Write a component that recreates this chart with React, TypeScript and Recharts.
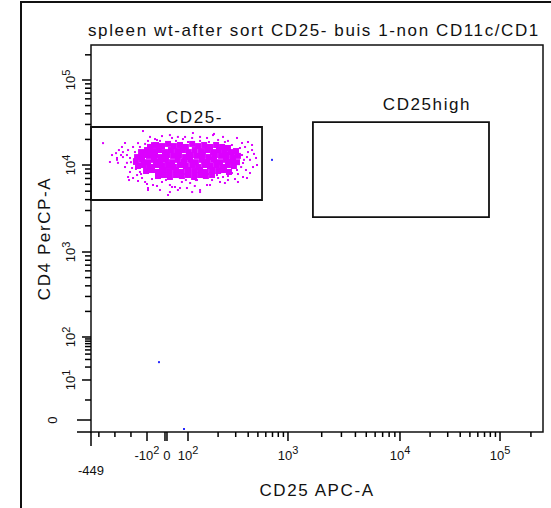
import { ScatterChart, Scatter, XAxis, YAxis, ReferenceArea } from "recharts";

const FONT = '"Liberation Sans", Arial, sans-serif';
const MAGENTA = "#dc00ff";
const BLUE = "#2a2aff";

// biexponential display calibration: [value, display position 0..1000]
const cd25Calib: [number, number][] = [
  [-449, 0], [-100, 123.9], [0, 168.1], [100, 214.6], [1000, 435.8],
  [10000, 683.6], [100000, 904.9], [262143, 1000],
];
const cd4Calib: [number, number][] = [
  [-10, 0], [0, 31], [10, 134.4], [100, 245.5], [1000, 465.1],
  [10000, 689.9], [100000, 909.6], [262143, 1000],
];

const cd25MajorTicks = [-449, -100, -10, 0, 100, 1000, 10000, 100000];
const cd25MajorLabels = ["-449", "-10^2", "", "0", "10^2", "10^3", "10^4", "10^5"];
const cd25MinorTicks = [
  -400, -300, -200,
  200, 300, 400, 500, 600, 700, 800, 900,
  2000, 3000, 4000, 5000, 6000, 7000, 8000, 9000,
  20000, 30000, 40000, 50000, 60000, 70000, 80000, 90000,
  200000,
];
const cd4MajorTicks = [-10, 0, 10, 100, 1000, 10000, 100000];
const cd4MajorLabels = ["", "0", "10^1", "10^2", "10^3", "10^4", "10^5"];
const cd4MinorTicks = [
  5,
  20, 30, 40, 50, 60, 70, 80, 90,
  200, 300, 400, 500, 600, 700, 800, 900,
  2000, 3000, 4000, 5000, 6000, 7000, 8000, 9000,
  20000, 30000, 40000, 50000, 60000, 70000, 80000, 90000,
  200000,
];

// gates: [cd25 min, cd25 max, cd4 min, cd4 max]
const gateNeg = [-449, 550, 3960, 28000];
const gateHigh = [1670, 77600, 2520, 32000];

// events [CD25 APC-A, CD4 PerCP-A] — dense centre of the CD25- population
const cd25NegCore: [number, number][] = [
  [-85, 16300], [-55, 17200], [-25, 16700], [5, 17700], [33, 16700], [62, 17200], [90, 16300],
  [110, 17700], [126, 16700], [145, 17200], [166, 16300], [191, 17200], [219, 16300], [251, 15850],
  [-137, 14200], [-100, 15000], [-70, 14600], [-40, 15000], [-10, 14200], [19, 15000], [48, 14600],
  [76, 15000], [102, 14200], [117, 15000], [135, 14600], [155, 15000], [178, 14200], [204, 15000],
  [234, 14600], [269, 14200], [302, 14600],
  [-162, 12400], [-125, 13100], [-90, 12800], [-60, 13100], [-30, 12400], [0, 13100], [29, 12800],
  [57, 13100], [86, 12400], [107, 13100], [123, 12800], [141, 13100], [162, 12400], [186, 13100],
  [214, 12800], [245, 13100], [282, 12400], [316, 12800],
  [-169, 11100], [-131, 11500], [-95, 10800], [-65, 11500], [-35, 11100], [-5, 11500], [24, 10800],
  [52, 11500], [81, 11100], [105, 11500], [120, 10800], [138, 11500], [158, 11100], [182, 11500],
  [209, 10800], [240, 11500], [275, 11100], [309, 10800],
  [-156, 9740], [-119, 10000], [-85, 9480], [-55, 10000], [-25, 9740], [5, 10000], [33, 9480],
  [62, 10000], [90, 9740], [110, 10000], [126, 9480], [145, 10000], [166, 9740], [191, 10000],
  [219, 9480], [251, 10000], [288, 9740],
  [-106, 8530], [-75, 8760], [-45, 8310], [-15, 8760], [14, 8530], [43, 8760], [71, 8310],
  [100, 8760], [115, 8530], [132, 8760], [151, 8310], [174, 8760], [200, 8530], [229, 8760], [257, 8310],
  [-45, 7470], [-15, 7670], [14, 7280], [43, 7670], [71, 7470], [100, 7670], [115, 7280],
  [132, 7670], [151, 7470], [174, 7670],
];

// scattered events around the centre
const cd25NegEvents: [number, number][] = [
  [-374, 18100], [-125, 25100], [-293, 13800], [-287, 11500], [-256, 16300], [-250, 14200],
  [-225, 10600], [-206, 8310], [-187, 7090], [-212, 6720], [-144, 8310], [-95, 5160], [-35, 5160],
  [14, 4890], [5, 4520], [52, 5160], [95, 5440], [110, 4890], [132, 4890], [155, 5890], [209, 6380],
  [251, 6720], [316, 6380], [355, 7280], [417, 8090], [447, 9480], [479, 12100], [437, 15000],
  [398, 18650], [347, 18150], [309, 20800], [251, 19200], [224, 21400], [178, 22500], [155, 20800],
  [132, 21400], [110, 20800], [76, 20200], [24, 20800], [0, 18650], [-50, 19700], [-75, 18100],
  [-156, 18100], [-187, 16300], [-218, 15000], [-250, 12400], [-262, 13100], [-281, 10600],
  [-237, 9480], [-193, 9240], [-162, 7670], [-131, 7090], [-112, 6380], [-70, 5890], [-25, 6380],
  [14, 5890], [38, 5590], [71, 6380], [105, 6210], [123, 6720], [148, 7090], [174, 6720],
  [195, 7670], [224, 7280], [275, 8090], [309, 8760], [355, 10560], [389, 12400], [398, 14200],
  [372, 16300], [182, 23200], [14, 22500], [112, 23800], [52, 21400], [-25, 21900], [-287, 12100],
  [-218, 7280], [-95, 5440], [24, 5590], [490, 10000], [389, 7090], [132, 5160],
  [-206, 12100], [-175, 14200], [-225, 13100], [-181, 10300], [-144, 16300], [-112, 17700],
  [-35, 19200], [43, 19200], [100, 18650], [132, 19200], [200, 19700], [275, 17200], [331, 15850],
  [347, 13100], [363, 11500], [340, 9480], [316, 7880], [251, 7470], [200, 7090], [120, 6720],
  [90, 6720], [-5, 6720], [-75, 6900], [-137, 7880], [-169, 9000], [-200, 10800], [417, 11500],
  [437, 17200], [162, 18650], [234, 18650], [86, 21400], [-60, 20200], [-85, 21400], [-95, 19200],
  [457, 13500], [380, 8760], [295, 6900], [234, 6210], [166, 5890], [117, 5740], [62, 5440],
  [-50, 5740], [-100, 6050], [-156, 6550], [-275, 15000], [-237, 18150], [-318, 13100], [-331, 10850],
];

// events outside the CD25- gate
const otherEvents: [number, number][] = [[692, 11500], [-40, 26], [81, -7.5]];

function biex(calib: [number, number][]) {
  return (v: number) => {
    let i = 0;
    while (i < calib.length - 2 && v > calib[i + 1][0]) i++;
    const [v0, p0] = calib[i];
    const [v1, p1] = calib[i + 1];
    const t = v0 > 0 ? Math.log10(v / v0) / Math.log10(v1 / v0) : (v - v0) / (v1 - v0);
    return p0 + t * (p1 - p0);
  };
}
const cd25Pos = biex(cd25Calib);
const cd4Pos = biex(cd4Calib);

const toPoints = (events: [number, number][]) =>
  events.map(([cd25, cd4]) => ({ x: cd25Pos(cd25), y: cd4Pos(cd4) }));

const cd25MajorPos = cd25MajorTicks.map(cd25Pos);
const cd4MajorPos = cd4MajorTicks.map(cd4Pos);

function expLabel(label: string, expSize: number, expDy: number) {
  const [base, exp] = label.split("^");
  return (
    <>
      {base}
      {exp && (
        <tspan dy={expDy} fontSize={expSize}>
          {exp}
        </tspan>
      )}
    </>
  );
}

function Cd25Tick(props: any) {
  const { x, y, payload } = props;
  const idx = cd25MajorPos.indexOf(payload.value);
  if (idx < 0) return <line x1={x} x2={x} y1={y} y2={y + 5} stroke="#000" strokeWidth={1.5} />;
  const isMin = idx === 0;
  const label = cd25MajorLabels[idx];
  return (
    <g>
      <line x1={x} x2={x} y1={y} y2={y + (isMin ? 14 : 9)} stroke="#000" strokeWidth={1.5} />
      {label && (
        <text x={x} y={y + (isMin ? 43 : 28)} textAnchor="middle" fontSize={13} fontFamily={FONT} fill="#111">
          {expLabel(label, 11, -6)}
        </text>
      )}
    </g>
  );
}

function Cd4Tick(props: any) {
  const { x, y, payload } = props;
  const idx = cd4MajorPos.indexOf(payload.value);
  if (idx < 0) return <line x1={x - 6} x2={x} y1={y} y2={y} stroke="#000" strokeWidth={1.5} />;
  const long = idx <= 1;
  const label = cd4MajorLabels[idx];
  const lx = x - (long ? 34 : 16);
  return (
    <g>
      <line x1={x - (long ? 14 : 9)} x2={x} y1={y} y2={y} stroke="#000" strokeWidth={1.5} />
      {label && (
        <text x={lx} y={y} transform={`rotate(-90 ${lx} ${y})`} textAnchor="middle" fontSize={13}
          fontFamily={FONT} fill="#111">
          {expLabel(label, 11, -5)}
        </text>
      )}
    </g>
  );
}

const square = (size: number, color: string) => (p: any) =>
  <rect x={p.cx - size / 2} y={p.cy - size / 2} width={size} height={size} fill={color} />;

const gateLabel = (text: string, dx: number, lift: number) => (p: any) => {
  const { x, y, width } = p.viewBox;
  return (
    <text x={x + width / 2 + dx} y={y - lift} textAnchor="middle" fontSize={17} letterSpacing={1.6}
      fontFamily={FONT} fill="#111">
      {text}
    </text>
  );
};

const textStyle = { fontSize: 17, letterSpacing: 1.6, fontFamily: FONT, fill: "#111" };

export default function App() {
  const ticksX = [...cd25MajorTicks, ...cd25MinorTicks].map(cd25Pos);
  const ticksY = [...cd4MajorTicks, ...cd4MinorTicks].map(cd4Pos);
  return (
    <div style={{ position: "absolute", left: 0, top: 0, width: 551, height: 508, background: "#fff", overflow: "hidden" }}>
      <div style={{ position: "absolute", left: 20, top: 1, width: 600, height: 600, borderLeft: "2px solid #111", borderTop: "2px solid #111" }} />
      <div style={{ position: "absolute", left: 0, top: 0 }}>
        <ScatterChart width={551} height={508} margin={{ top: 45, right: 8, bottom: 46, left: 31 }}>
          <XAxis type="number" dataKey="x" domain={[0, 1000]} ticks={ticksX} interval={0} tick={Cd25Tick}
            tickSize={0} tickMargin={0} tickLine={false} axisLine={false} height={30} allowDataOverflow
            label={{ content: (p: any) => (
              <text x={p.viewBox.x + p.viewBox.width / 2} y={p.viewBox.y + 64} textAnchor="middle" {...textStyle}>
                CD25 APC-A
              </text>
            ) }} />
          <YAxis type="number" dataKey="y" domain={[0, 1000]} ticks={ticksY} interval={0} tick={Cd4Tick}
            tickSize={0} tickMargin={0} tickLine={false} axisLine={false} width={60} allowDataOverflow
            label={{ content: (p: any) => {
              const lx = p.viewBox.x + 19;
              const ly = p.viewBox.y + p.viewBox.height / 2;
              return (
                <text x={lx} y={ly} transform={`rotate(-90 ${lx} ${ly})`} textAnchor="middle" {...textStyle}>
                  CD4 PerCP-A
                </text>
              );
            } }} />
          <ReferenceArea x1={0} x2={1000} y1={0} y2={1000} fill="none" stroke="#111" strokeWidth={1.5} />
          <Scatter data={toPoints(cd25NegEvents)} shape={square(2, MAGENTA)} isAnimationActive={false} />
          <Scatter data={toPoints(cd25NegCore)} shape={square(6, MAGENTA)} isAnimationActive={false} />
          <Scatter data={toPoints(otherEvents)} shape={square(2, BLUE)} isAnimationActive={false} />
          <ReferenceArea x1={cd25Pos(gateNeg[0])} x2={cd25Pos(gateNeg[1])} y1={cd4Pos(gateNeg[2])} y2={cd4Pos(gateNeg[3])}
            fill="none" stroke="#111" strokeWidth={1.8} label={{ content: gateLabel("CD25-", 18, 4) }} />
          <ReferenceArea x1={cd25Pos(gateHigh[0])} x2={cd25Pos(gateHigh[1])} y1={cd4Pos(gateHigh[2])} y2={cd4Pos(gateHigh[3])}
            fill="none" stroke="#111" strokeWidth={1.8} label={{ content: gateLabel("CD25high", 26, 12) }} />
        </ScatterChart>
      </div>
      <svg width={551} height={508} style={{ position: "absolute", left: 0, top: 0, pointerEvents: "none" }}>
        <text x={88} y={36} {...textStyle}>spleen wt-after sort CD25- buis 1-non CD11c/CD1</text>
      </svg>
    </div>
  );
}
